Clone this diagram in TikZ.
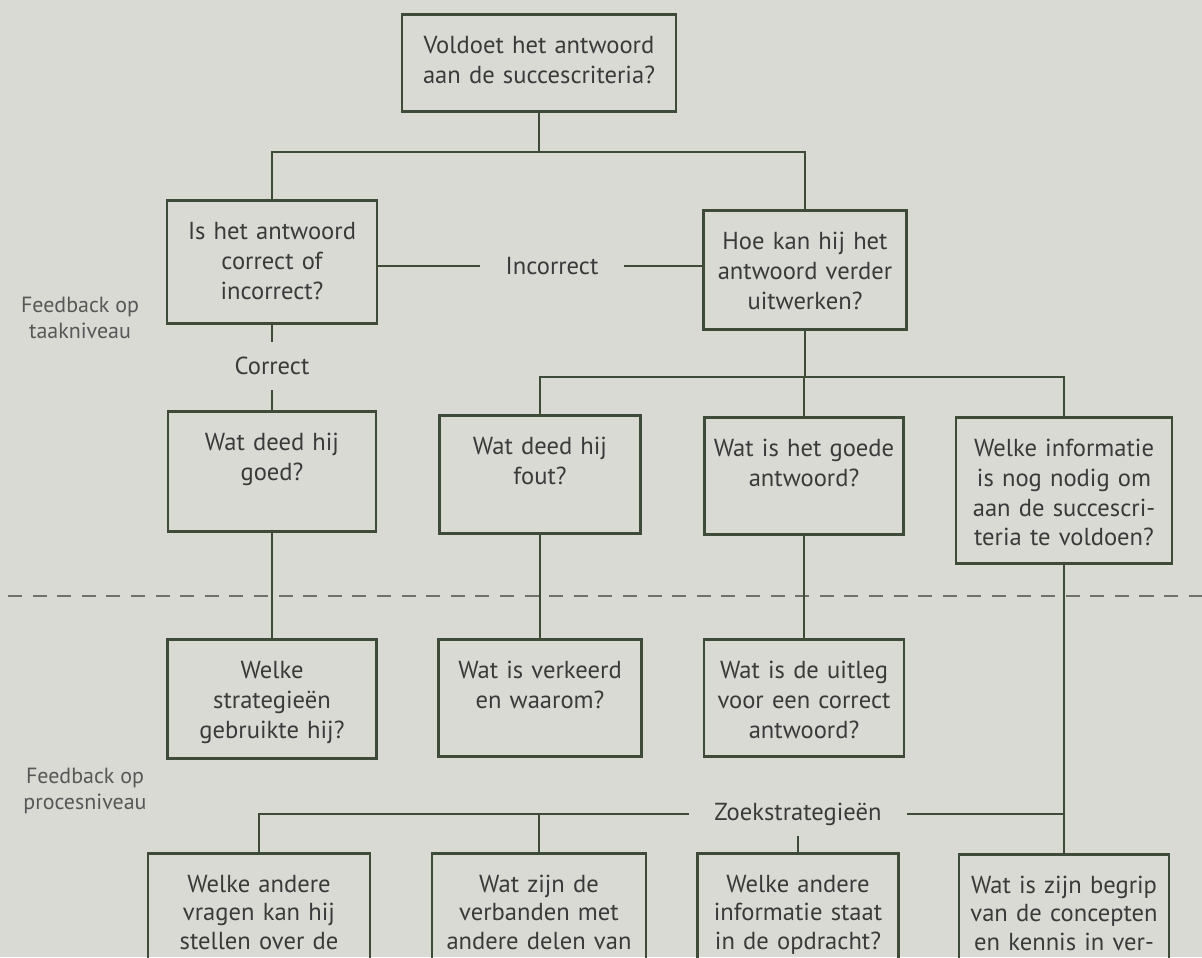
\documentclass[tikz,border=0pt]{standalone}
\usepackage{fontspec}
\setmainfont{PT Sans}

\definecolor{paper}{HTML}{DADAD4}
\definecolor{ink}{HTML}{3E4B38}
\definecolor{txt}{HTML}{3A3A3A}
\definecolor{dashcol}{HTML}{6E726B}

\tikzset{
  qbox/.style={draw=ink, line width=1.5pt, text=txt, text width=#1, align=center,
    anchor=north, inner xsep=0.1cm, inner ysep=0.42cm, text height=0.36cm,
    font=\fontsize{14pt}{17pt}\selectfont},
  lowbox/.style={qbox=#1, text depth=3cm, font=\fontsize{14pt}{16.2pt}\selectfont},
  conn/.style={draw=ink, line width=1.5pt},
  lbl/.style={text=txt, inner xsep=0.5cm, inner ysep=0.3cm, font=\fontsize{14pt}{17pt}\selectfont},
  level/.style={text=txt!85, align=center, font=\fontsize{12.5pt}{14.8pt}\selectfont},
  divider/.style={draw=dashcol, line width=1.2pt, dash pattern=on 8pt off 6pt}
}

\begin{document}
\begin{tikzpicture}[x=0.02cm,y=-0.02cm]

  % Paper
  \fill[paper] (0,0) rectangle (1202,957);
  \useasboundingbox (0,0) rectangle (1202,957);
  \clip (0,0) rectangle (1202,957);

  % Draw top question
  \node[qbox=5.28cm, text depth=0.74cm] (top) at (539,13) {Voldoet het antwoord\\aan de succescriteria?};

  % Draw task level
  \node[qbox=4.0cm, text depth=1.26cm] (isantw) at (272,199) {Is het antwoord\\correct of\\incorrect?};
  \node[qbox=3.86cm, text depth=1.18cm] (hoe) at (805,209) {Hoe kan hij het\\antwoord verder\\uitwerken?};
  \node[lbl] (inc) at (552,266) {Incorrect};
  \node[lbl, inner xsep=0.1cm] (corr) at (272,366) {Correct};

  \node[qbox=3.96cm, text depth=1.2cm] (goed) at (272,410) {Wat deed hij\\goed?};
  \node[qbox=3.82cm, text depth=1.16cm] (fout) at (540,414) {Wat deed hij\\fout?};
  \node[qbox=3.78cm, text depth=1.14cm] (goedeantw) at (804,416) {Wat is het goede\\antwoord?};
  \node[qbox=4.12cm, text depth=1.72cm] (info) at (1064,416) {Welke informatie\\is nog nodig om\\aan de succescri-\\teria te voldoen?};

  % Draw level labels
  \node[level] (taak) at (80,318) {Feedback op\\taakniveau};
  \node[level] (proces) at (85,791) {Feedback op\\procesniveau};

  % Draw divider
  \draw[divider] (8,596) -- (1202,596);

  % Draw process level
  \node[qbox=3.98cm, text depth=1.18cm] (strat) at (272,638) {Welke\\strategieën\\gebruikte hij?};
  \node[qbox=3.86cm, text depth=1.14cm] (verkeerd) at (540,638) {Wat is verkeerd\\en waarom?};
  \node[qbox=3.8cm, text depth=1.14cm] (uitleg) at (804,638) {Wat is de uitleg\\voor een correct\\antwoord?};

  \node[lbl, inner ysep=0.2cm] (zoek) at (798,814) {Zoekstrategieën};

  \node[lowbox=4.24cm] (vragen) at (259,852) {Welke andere\\vragen kan hij\\stellen over de};
  \node[lowbox=4.08cm] (verbanden) at (539,852) {Wat zijn de\\verbanden met\\andere delen van};
  \node[lowbox=3.82cm] (andereinfo) at (798,852) {Welke andere\\informatie staat\\in de opdracht?};
  \node[lowbox=4.0cm] (begrip) at (1064,853) {Wat is zijn begrip\\van de concepten\\en kennis in ver-};

  % Draw connectors
  \coordinate (t1) at (539,152);
  \draw[conn] (top.south) -- (t1);
  \draw[conn] (isantw.north) |- (t1) -| (hoe.north);
  \draw[conn] (isantw.east |- inc) -- (inc.west);
  \draw[conn] (inc.east) -- (hoe.west |- inc);
  \draw[conn] (isantw.south) -- (corr.north);
  \draw[conn] (corr.south) -- (goed.north);

  \coordinate (t2) at (805,377);
  \draw[conn] (hoe.south) -- (t2);
  \draw[conn] (fout.north) |- (t2) -| (info.north);
  \draw[conn] (goedeantw.north) -- (goedeantw.north |- t2);

  \draw[conn] (goed.south) -- (strat.north);
  \draw[conn] (fout.south) -- (verkeerd.north);
  \draw[conn] (goedeantw.south) -- (uitleg.north);
  \draw[conn] (info.south) -- (begrip.north);

  \draw[conn] (vragen.north) |- (zoek.west);
  \draw[conn] (verbanden.north) -- (verbanden.north |- zoek);
  \draw[conn] (zoek.east) -- (zoek.east -| begrip.north);
  \draw[conn] (zoek.south) -- (andereinfo.north);

\end{tikzpicture}
\end{document}
